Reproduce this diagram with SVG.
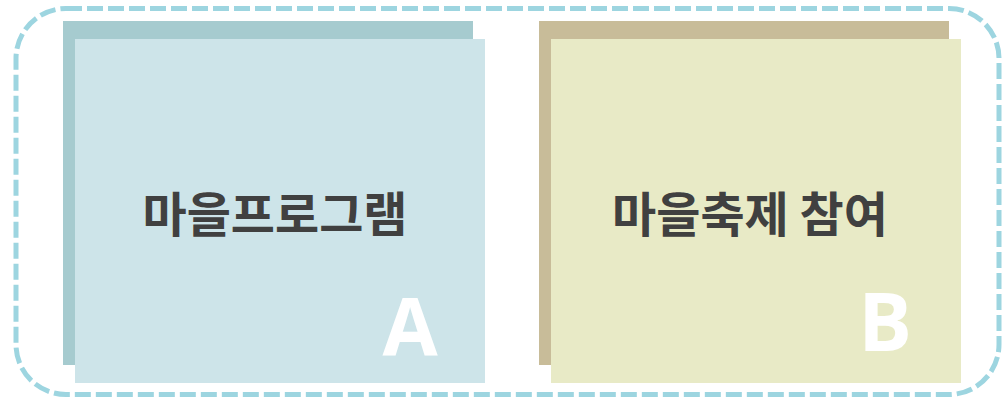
<svg xmlns="http://www.w3.org/2000/svg" width="1002" height="398" viewBox="0 0 1002 398">
<style>
.frame{fill:none;stroke:#9dd5e0;stroke-width:5;stroke-dasharray:16 5}
.title{font-family:"Noto Sans CJK KR","Noto Sans",sans-serif;font-weight:700;font-size:48px;fill:#404040;text-anchor:middle}
.letter{font-family:"Open Sans","Noto Sans",sans-serif;font-weight:700;font-size:80px;fill:#ffffff;text-anchor:middle}
</style>
<rect class="frame" x="16" y="8.5" width="983" height="386" rx="50" ry="50"/>
<g id="nodeA">
<rect x="63" y="21" width="410" height="344" fill="#a6cbcf"/>
<rect x="75" y="39" width="410" height="344" fill="#cde4e9"/>
<text class="title" x="275" y="232">마을프로그램</text>
<text class="letter" x="410" y="356">A</text>
</g>
<g id="nodeB">
<rect x="539" y="21" width="410" height="344" fill="#c8bc99"/>
<rect x="551" y="39" width="410" height="344" fill="#e8eac6"/>
<text class="title" x="750" y="232">마을축제 참여</text>
<text class="letter" x="885" y="351">B</text>
</g>
<g id="connectors"></g>
</svg>
